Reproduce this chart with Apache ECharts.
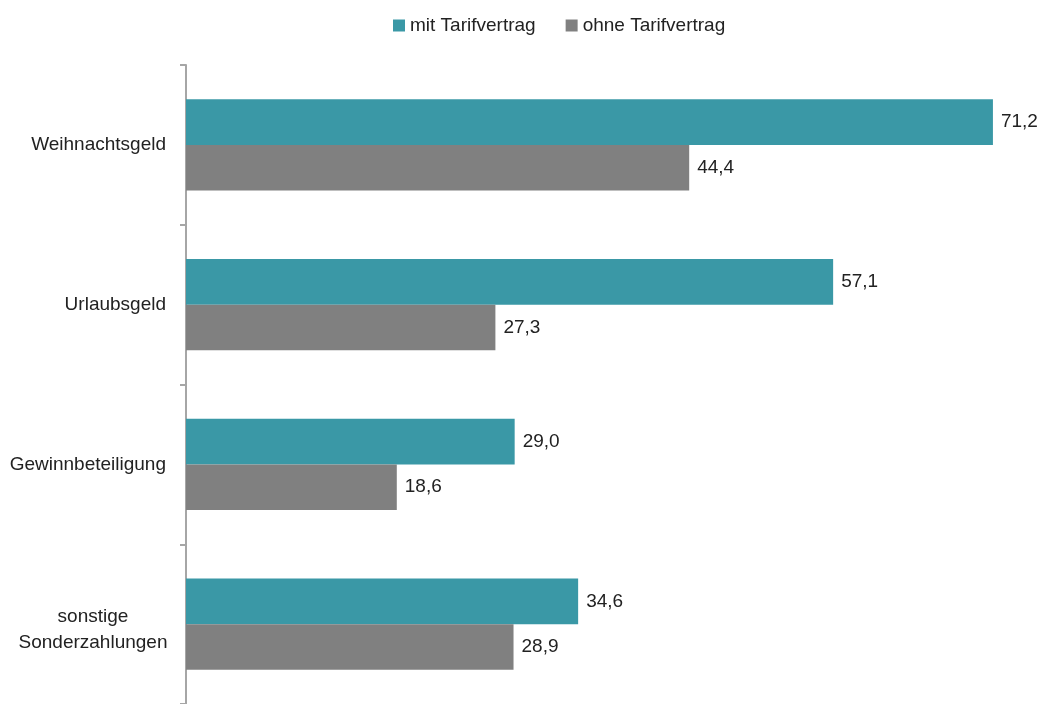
<!DOCTYPE html>
<html><head><meta charset="utf-8">
<script src="https://cdn.jsdelivr.net/npm/echarts@6/dist/echarts.min.js"></script>
<style>html,body{margin:0;padding:0;background:#fff}#c{width:1040px;height:704px}</style>
</head><body><div id="c"></div>
<script>
const categories = ['Weihnachtsgeld', 'Urlaubsgeld', 'Gewinnbeteiligung', 'sonstige\nSonderzahlungen'];
const seriesNames = ['mit Tarifvertrag', 'ohne Tarifvertrag'];
const mitTarif = [71.2, 57.1, 29.0, 34.6];
const ohneTarif = [44.4, 27.3, 18.6, 28.9];

const FONT = "'Liberation Sans Narrow', 'Arial Narrow', 'Liberation Sans', Arial, sans-serif";
const FS = 19;
const chart = echarts.init(document.getElementById('c'));
const fmt = p => p.value.toFixed(1).replace('.', ',');
chart.setOption({
  animation: false,
  textStyle: { fontFamily: FONT },
  legend: {
    top: 11, left: 388,
    itemWidth: 12, itemHeight: 12, itemGap: 30,
    icon: 'rect',
    textStyle: { fontFamily: FONT, fontSize: FS, color: '#222' },
    data: seriesNames
  },
  grid: { left: 186, top: 65, width: 850, height: 646, containLabel: false },
  xAxis: { type: 'value', min: 0, max: 75, show: false },
  yAxis: {
    type: 'category', inverse: true, data: categories,
    axisLine: { lineStyle: { color: '#a6a6a6', width: 2 } },
    axisTick: { show: true, length: 6, lineStyle: { color: '#a6a6a6', width: 2 } },
    axisLabel: {
      fontFamily: FONT, fontSize: FS, color: '#222', margin: 20, align: 'right',
      formatter: v => v.indexOf('\n') >= 0 ? '{c|' + v + '}' : v,
      rich: { c: { fontFamily: FONT, fontSize: FS, color: '#222', lineHeight: 26, width: 146, align: 'center', padding: [12, 0, 0, 0] } }
    }
  },
  series: [
    { name: seriesNames[0], type: 'bar', data: mitTarif, barGap: '0%', barCategoryGap: '43%',
      itemStyle: { color: '#3A98A6' },
      label: { show: true, position: 'right', distance: 8, formatter: fmt, fontFamily: FONT, fontSize: FS, color: '#222' } },
    { name: seriesNames[1], type: 'bar', data: ohneTarif, barGap: '0%', barCategoryGap: '43%',
      itemStyle: { color: '#808080' },
      label: { show: true, position: 'right', distance: 8, formatter: fmt, fontFamily: FONT, fontSize: FS, color: '#222' } }
  ]
});
</script></body></html>
